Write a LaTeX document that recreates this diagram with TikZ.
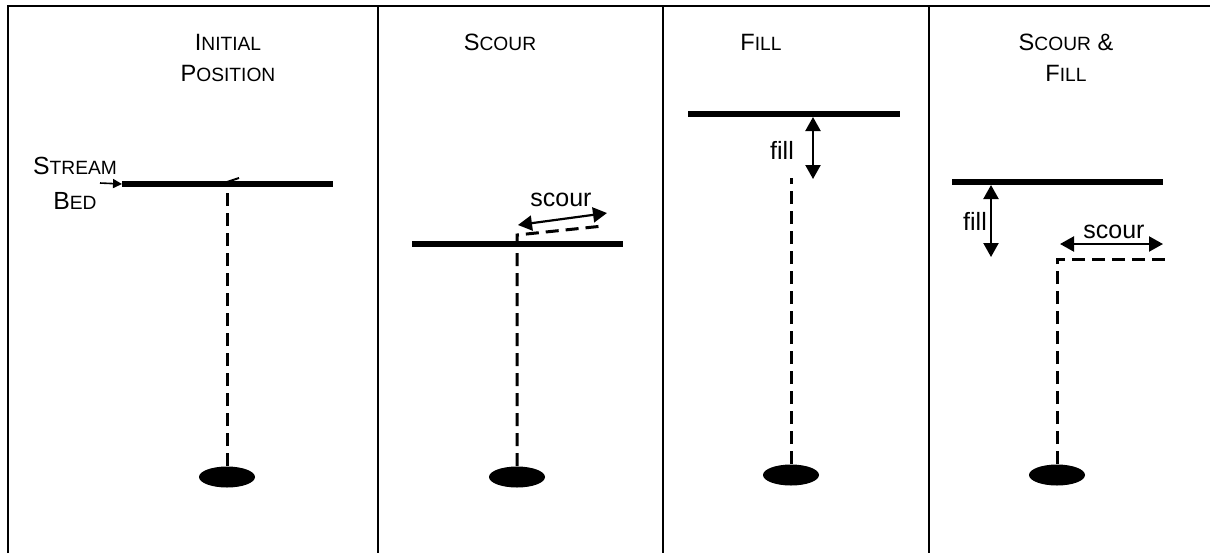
\documentclass[tikz,border=0pt]{standalone}
\usepackage{fontspec}
\setmainfont{Liberation Sans}
\usetikzlibrary{positioning, arrows.meta, shapes.geometric}

\newcommand{\smcap}[1]{{\fontsize{9.6}{12}\selectfont #1}}

\begin{document}
\begin{tikzpicture}[x=0.5pt, y=-0.5pt,
    bed/.style={line width=3.2pt},
    pin/.style={line width=1.5pt, dash pattern=on 6.5pt off 3.5pt},
    weight/.style={ellipse, fill=black, inner sep=0pt, minimum width=28pt, minimum height=10.5pt},
    move/.style={{Triangle[length=7pt,width=7.5pt]}-{Triangle[length=7pt,width=7.5pt]}, line width=1.1pt},
    title/.style={align=center, font=\fontsize{11.8}{15.5}\selectfont},
    lbl/.style={font=\fontsize{12.5}{15}\selectfont, inner sep=0pt}]

    \useasboundingbox (0,0) rectangle (1210,553);

    % frame
    \draw [line width=1pt] (8,553) -- (8,6) -- (1210,6);
    \foreach \x in {378, 663, 929}
      \draw [line width=0.7pt] (\x,6) -- (\x,553);

    % titles
    \node [title] (initial) at (228,58) {I\smcap{NITIAL}\\P\smcap{OSITION}};
    \node [title] (scour) at (500,42) {S\smcap{COUR}};
    \node [title] (fill) at (761,42) {F\smcap{ILL}};
    \node [title] (both) at (1066,58) {S\smcap{COUR} \&\\F\smcap{ILL}};

    % initial position
    \coordinate (bed1w) at (122,184);
    \coordinate (bed1e) at (333,184);
    \draw [bed] (bed1w) -- (bed1e);
    \node [weight] (w1) at (227,477) {};
    \draw [pin] (w1.north) -- (w1.north |- bed1w);
    \draw [line width=1pt] (227,182) -- (239,178);

    \node [align=center, font=\fontsize{12.4}{17.5}\selectfont, inner sep=0pt] (streambed) at (75,183)
    {S\smcap{TREAM}\\B\smcap{ED}};
    \coordinate (tail) at (100,183);
    \draw [-{Triangle[length=4.5pt,width=4.5pt]}, line width=0.8pt] (tail) -- (bed1w);

    % scour
    \coordinate (bed2w) at (412,244);
    \coordinate (bed2e) at (623,244);
    \draw [bed] (bed2w) -- (bed2e);
    \node [weight] (w2) at (517,477) {};
    \coordinate (top2) at (517,235);
    \coordinate (end2) at (603,226);
    \draw [pin] (w2.north) -- (top2) -- (end2);
    \coordinate (sc2a) at (518,225);
    \coordinate (sc2b) at (607,213);
    \draw [move] (sc2a) -- (sc2b);
    \node [lbl] (scour2) at (561,200) {scour};

    % fill
    \coordinate (bed3w) at (688,114);
    \coordinate (bed3e) at (900,114);
    \draw [bed] (bed3w) -- (bed3e);
    \node [weight] (w3) at (791,475) {};
    \coordinate (top3) at (791,178);
    \draw [pin] (w3.north) -- (top3);
    \coordinate (fi3a) at (813,117);
    \coordinate (fi3b) at (813,179);
    \draw [move] (fi3a) -- (fi3b);
    \node [lbl] (fill3) at (782,150) {fill};

    % scour & fill
    \coordinate (bed4w) at (952,182);
    \coordinate (bed4e) at (1163,182);
    \draw [bed] (bed4w) -- (bed4e);
    \node [weight] (w4) at (1057,475) {};
    \coordinate (top4) at (1057,259);
    \coordinate (end4) at (1167,259);
    \draw [pin] (w4.north) -- (top4) -- (end4);
    \coordinate (fi4a) at (991,185);
    \coordinate (fi4b) at (991,257);
    \draw [move] (fi4a) -- (fi4b);
    \node [lbl] (fill4) at (975,221) {fill};
    \coordinate (sc4a) at (1060,244);
    \coordinate (sc4b) at (1163,244);
    \draw [move] (sc4a) -- (sc4b);
    \node [lbl] (scour4) at (1114,232) {scour};
\end{tikzpicture}
\end{document}
